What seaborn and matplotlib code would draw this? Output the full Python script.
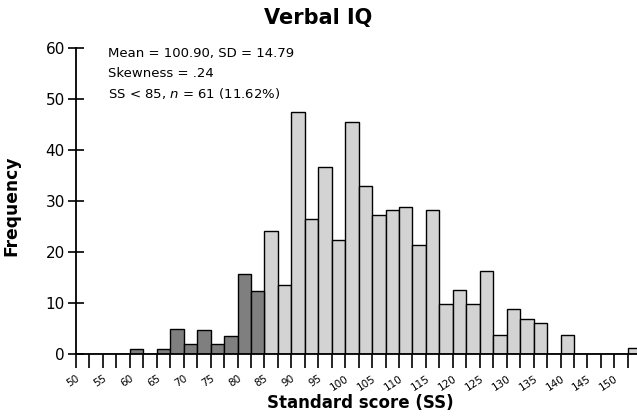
import numpy as np
import pandas as pd
import matplotlib
matplotlib.use("Agg")
import matplotlib.pyplot as plt
import seaborn as sns

# Histogram bins (2.5-point wide) and the frequency in each occupied bin
bin_start = [60, 65, 67.5, 70, 72.5, 75, 77.5, 80, 82.5,
             85, 87.5, 90, 92.5, 95, 97.5, 100, 102.5, 105, 107.5,
             110, 112.5, 115, 117.5, 120, 122.5, 125, 127.5, 130, 132.5,
             135, 140, 152.5]
frequency = [1.0, 1.0, 4.8, 1.9, 4.7, 1.9, 3.6, 15.6, 12.4,
             24.1, 13.5, 47.4, 26.4, 36.7, 22.3, 45.4, 32.9, 27.2, 28.2,
             28.8, 21.3, 28.2, 9.8, 12.6, 9.8, 16.3, 3.8, 8.8, 6.9,
             6.0, 3.8, 1.1]
cutoff = 85
tick_values = [50, 55, 60, 65, 70, 75, 80, 85, 90, 95, 100,
               105, 110, 115, 120, 125, 130, 135, 140, 145, 150]
stats_lines = ["Mean = 100.90, SD = 14.79",
               "Skewness = .24",
               "SS < 85, $n$ = 61 (11.62%)"]

bin_width = 2.5

df = pd.DataFrame({
    "score": [b + bin_width / 2 for b in bin_start],
    "freq": frequency,
})
df["band"] = np.where(np.array(bin_start) < cutoff, "low", "typical")

sns.set_theme(style="white")
plt.rcParams["font.family"] = ["DejaVu Sans"]
plt.rcParams["mathtext.fontset"] = "dejavusans"

W, H = 637, 417
fig = plt.figure(figsize=(W / 100, H / 100), dpi=100)
ax = fig.add_axes([76 / W, 1 - 354 / H, (W - 76) / W, (354 - 47.5) / H])

sns.histplot(data=df, x="score", weights="freq", binwidth=bin_width,
             binrange=(50, 155), hue="band",
             hue_order=["low", "typical"],
             palette={"low": "#7f7f7f", "typical": "#d3d3d3"},
             multiple="layer", alpha=1, edgecolor="black", linewidth=1.0,
             legend=False, ax=ax)

ax.set_xlim(50, 154.2)
ax.set_ylim(0, 60)
ax.set_xlabel("")
ax.set_ylabel("")

for side in ("top", "right"):
    ax.spines[side].set_visible(False)
for side in ("left", "bottom"):
    ax.spines[side].set_color("black")
    ax.spines[side].set_linewidth(1.3)

xt = np.arange(50, 152.5 + 0.01, bin_width)
ax.set_xticks(xt)
ax.set_xticklabels([str(int(v)) if v == int(v) and int(v) in tick_values else ""
                    for v in xt],
                   rotation=33, ha="right", rotation_mode="anchor",
                   fontsize=7.5)
ax.tick_params(axis="x", bottom=True, direction="out", length=10, width=1.2,
               color="black", pad=4, labelcolor="black")
ax.set_yticks([0, 10, 20, 30, 40, 50, 60])
ax.tick_params(axis="y", left=True, direction="inout", length=12, width=1.2,
               color="black", pad=2, labelsize=11, labelcolor="black")

for i, line in enumerate(stats_lines):
    ax.text(108 / W, 1 - (53 + 20.5 * i) / H, line, transform=fig.transFigure,
            ha="left", va="center", fontsize=9.5, color="black")

fig.text(318.5 / W, 1 - 18 / H, "Verbal IQ", ha="center", va="center",
         fontsize=15, fontweight="bold", color="black")
fig.text(360 / W, 1 - 403 / H, "Standard score (SS)", ha="center",
         va="center", fontsize=12, fontweight="bold", color="black")
fig.text(11 / W, 1 - 206 / H, "Frequency", ha="center", va="center",
         rotation=90, fontsize=12.3, fontweight="bold", color="black")

fig.savefig("out.png", dpi=100)
